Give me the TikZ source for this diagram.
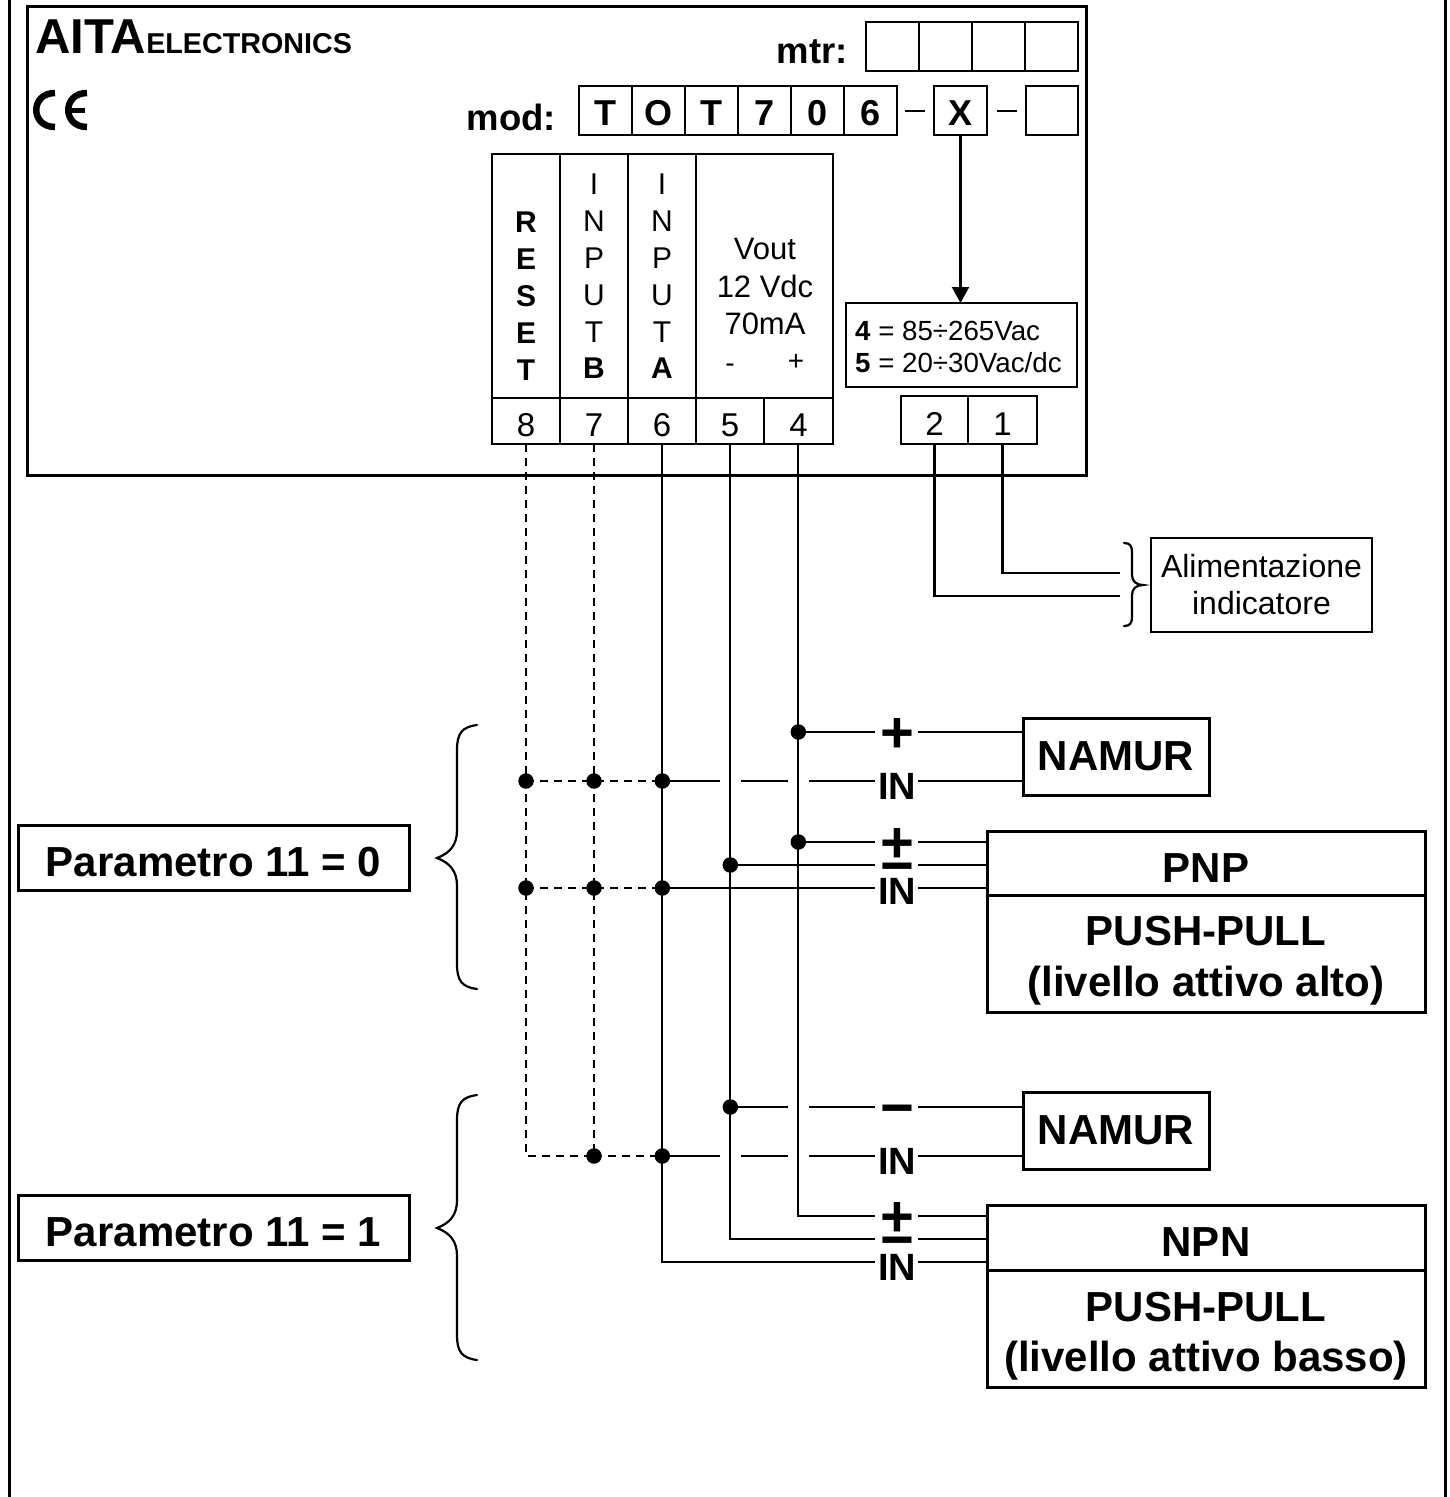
\documentclass[tikz,border=0pt]{standalone}
\usepackage{fontspec}
\setmainfont{Liberation Sans}
\usetikzlibrary{arrows.meta,decorations.pathreplacing}
\newcommand{\fs}[1]{\fontsize{#1}{#1}\selectfont}
\newcommand{\bx}[6][]{% [style] name x1 y1 x2 y2 text in following group
  \pgfmathsetmacro{\bw}{#5-#3}\pgfmathsetmacro{\bh}{#6-#4}%
  \node[box,#1,anchor=north west,minimum width=\bw pt,minimum height=\bh pt] (#2) at (#3,#4)}
\tikzset{
  box/.style={draw=black,line width=3pt,fill=white,inner sep=0pt,outer sep=0pt,align=center},
  thinbox/.style={line width=2.5pt},
  wire/.style={line width=2.2pt},
  dwire/.style={line width=2.2pt,dash pattern=on 8pt off 6pt},
  dot/.style={circle,fill=black,inner sep=0pt,minimum size=15.5pt},
  coltxt/.style={font=\fs{30},align=center,inner sep=0pt},
  sym/.style={font=\bfseries\fs{58},anchor=base,inner sep=0pt},
  intxt/.style={font=\bfseries\fs{38},inner sep=0pt},
  brc/.style={line width=2.2pt,line cap=round},
  ce/.style={line width=6.5pt}
}
\begin{document}
\begin{tikzpicture}[x=1pt,y=-1pt]
\useasboundingbox (0,0) rectangle (1450,1497);
\fill[white] (0,0) rectangle (1450,1497);
% outer frame
\coordinate (otl) at (9,0); \coordinate (obl) at (9,1497);
\coordinate (otr) at (1445,0); \coordinate (obr) at (1445,1497);
\draw[line width=3pt] (otl) -- (obl);
\draw[line width=3pt] (otr) -- (obr);
% main box
\bx{main}{27}{6}{1086}{475} {};
\node[anchor=base west,inner sep=0pt,font=\bfseries\fs{49}] (aita) at (35,53) {AITA};
\node[anchor=base west,inner sep=0pt,font=\bfseries\fs{28.7}] (elec) at (aita.base east) {ELECTRONICS};
% CE
\draw[ce] (55,93) .. controls (30,93) and (30,127) .. (55,127);
\draw[ce] (87,93) .. controls (62,93) and (62,127) .. (87,127);
\draw[line width=5pt] (69,110) -- (85,110);
% mtr
\node[anchor=base east,inner sep=0pt,font=\bfseries\fs{36.5}] (mtr) at (848,63) {mtr:};
\bx[thinbox]{m1}{866}{22}{919}{71} {};
\bx[thinbox]{m2}{919}{22}{972}{71} {};
\bx[thinbox]{m3}{972}{22}{1025}{71} {};
\bx[thinbox]{m4}{1025}{22}{1078}{71} {};
% mod
\node[anchor=base east,inner sep=0pt,font=\bfseries\fs{36.5}] (mod) at (556,130) {mod:};
\tikzset{lt/.style={thinbox,font=\bfseries\fs{36},text height=29pt,text depth=0pt}}
\bx[lt]{t1}{579}{86}{632}{135} {T};
\bx[lt]{t2}{632}{86}{685}{135} {O};
\bx[lt]{t3}{685}{86}{738}{135} {T};
\bx[lt]{t4}{738}{86}{791}{135} {7};
\bx[lt]{t5}{791}{86}{844}{135} {0};
\bx[lt]{t6}{844}{86}{897}{135} {6};
\bx[lt]{tx}{934}{86}{987}{135} {X};
\bx[thinbox]{ty}{1026}{86}{1078}{135} {};
\draw[line width=2pt] (t6.east) ++(8,0) -- ++(20,0);
\draw[line width=2pt] (tx.east) ++(10,0) -- ++(20,0);
% terminal columns
\bx[thinbox]{c8}{492}{154}{560}{398} {};
\bx[thinbox]{c7}{560}{154}{628}{398} {};
\bx[thinbox]{c6}{628}{154}{696}{398} {};
\bx[thinbox]{cv}{696}{154}{833}{398} {};
\node[coltxt,anchor=north] (treset) at (526,212) {\bfseries\parbox{40pt}{\centering\baselineskip=36.8pt R\\E\\S\\E\\T}};
\node[coltxt,anchor=north] (tb) at (594,174) {\parbox{40pt}{\centering\baselineskip=36.8pt I\\N\\P\\U\\T\\\textbf{B}}};
\node[coltxt,anchor=north] (ta) at (662,174) {\parbox{40pt}{\centering\baselineskip=36.8pt I\\N\\P\\U\\T\\\textbf{A}}};
\node[coltxt,anchor=north,font=\fs{31}] (tv) at (765,238) {\parbox{130pt}{\centering\baselineskip=37.5pt Vout\\12 Vdc\\70mA}};
\node[coltxt,anchor=base,font=\fs{28}] (vm) at (730,372) {-};
\node[coltxt,anchor=base,font=\fs{28}] (vp) at (796,370) {+};
% terminals
\tikzset{nt/.style={thinbox,font=\fs{33},text height=30pt,text depth=0pt}}
\bx[nt]{n8}{492}{398}{560}{444} {8};
\bx[nt]{n7}{560}{398}{628}{444} {7};
\bx[nt]{n6}{628}{398}{696}{444} {6};
\bx[nt]{n5}{696}{398}{764}{444} {5};
\bx[nt]{n4}{764}{398}{833}{444} {4};
\bx[nt]{n2}{901}{396}{968}{444} {2};
\bx[nt]{n1}{968}{396}{1037}{444} {1};
% spec
\bx[line width=2.7pt]{spec}{846}{303}{1077}{387} {};
\node[anchor=base west,inner sep=0pt,font=\fs{27.7}] (s4) at (855,340) {\textbf{4} = 85÷265Vac};
\node[anchor=base west,inner sep=0pt,font=\fs{27.7}] (s5) at (855,372) {\textbf{5} = 20÷30Vac/dc};
\coordinate (xin) at (960.5,135);
\draw[wire,-{Triangle[length=16pt,width=17pt]}] (xin) -- (xin |- spec.north);
% supply
\bx[line width=2.7pt,font=\fs{32}]{ali}{1151}{538}{1372}{632} {\parbox{215pt}{\centering\baselineskip=37pt Alimentazione\\indicatore}};
\coordinate (w1e) at (1120,573); \coordinate (w2e) at (1120,596);
\coordinate (w1t) at (1002.5,444); \coordinate (w2t) at (934.5,444);
\draw[wire] (w1t) |- (w1e);
\draw[wire] (w2t) |- (w2e);
\draw[brc] (1124,543) .. controls (1130,543) and (1132,546) .. (1132,552) -- (1132,575) .. controls (1132,581) and (1136,585) .. (1143,585) .. controls (1136,585) and (1132,589) .. (1132,595) -- (1132,617) .. controls (1132,623) and (1130,626) .. (1124,626);
% wire x positions
\coordinate (X8) at (526,444); \coordinate (X7) at (594,444); \coordinate (X6) at (662.3,444);
\coordinate (X5) at (730.3,444); \coordinate (X4) at (798.3,444);
\coordinate (j81) at (526,781); \coordinate (j71) at (594,781); \coordinate (j61) at (662.3,781);
\coordinate (j82) at (526,888); \coordinate (j72) at (594,888); \coordinate (j62) at (662.3,888);
\coordinate (j41) at (798.3,732); \coordinate (j42) at (798.3,842); \coordinate (j51) at (730.3,865);
\coordinate (j52) at (730.3,1107); \coordinate (j73) at (594,1156); \coordinate (j63) at (662.3,1156);
\coordinate (c83) at (526,1156);
% boxes of sensors
\tikzset{bigt/.style={line width=3pt,font=\bfseries\fs{42}},
  lowt/.style={bigt,text height=38pt,text depth=0pt},
  ppt/.style={font=\bfseries\fs{42},inner sep=0pt}}
\bx[bigt,text height=27pt,text depth=0pt]{nam1}{1023}{718}{1209}{795} {NAMUR};
\bx[bigt,text height=27pt,text depth=0pt]{nam2}{1023}{1092}{1209}{1169} {NAMUR};
\bx[lowt]{pnp}{987}{831}{1425}{895} {PNP};
\bx[bigt]{pp1}{987}{895}{1425}{1012} {};
\node[ppt] (pp1t) at (1206,961) {\parbox{430pt}{\centering\baselineskip=51pt PUSH-PULL\\(livello attivo alto)}};
\bx[lowt]{npn}{987}{1205}{1425}{1270} {NPN};
\bx[bigt]{pp2}{987}{1270}{1425}{1387} {};
\node[ppt] (pp2t) at (1206,1336) {\parbox{430pt}{\centering\baselineskip=50pt PUSH-PULL\\(livello attivo basso)}};
% vertical wires
\draw[dwire] (X8) -- (c83) -- (j73);
\draw[dwire] (X7) -- (j73);
\draw[dwire] (j73) -- (j63);
\draw[dwire] (j81) -- (j61);
\draw[dwire] (j82) -- (j62);
\draw[wire] (X6) |- (875,1262);
\draw[wire] (X5) |- (875,1239);
\draw[wire] (X4) |- (875,1216);
% horizontal wires
\draw[wire] (j41) -- (875,732);
\draw[wire] (918,732) -- (nam1.west |- 918,732);
\draw[wire] (j42) -- (875,842);
\draw[wire] (918,842) -- (pnp.west |- 918,842);
\draw[wire] (j51) -- (875,865);
\draw[wire] (918,865) -- (pnp.west |- 918,865);
\draw[wire] (j62) -- (875,888);
\draw[wire] (918,888) -- (pnp.west |- 918,888);
\draw[wire] (j61) -- (720,781);
\draw[wire] (741,781) -- (788,781);
\draw[wire] (809,781) -- (875,781);
\draw[wire] (918,781) -- (nam1.west |- 918,781);
\draw[wire] (j52) -- (788,1107);
\draw[wire] (809,1107) -- (875,1107);
\draw[wire] (918,1107) -- (nam2.west |- 918,1107);
\draw[wire] (j63) -- (720,1156);
\draw[wire] (741,1156) -- (788,1156);
\draw[wire] (809,1156) -- (875,1156);
\draw[wire] (918,1156) -- (nam2.west |- 918,1156);
\draw[wire] (918,1216) -- (npn.west |- 918,1216);
\draw[wire] (918,1239) -- (npn.west |- 918,1239);
\draw[wire] (918,1262) -- (npn.west |- 918,1262);
% dots
\foreach \j in {j81,j71,j61,j82,j72,j62,j41,j42,j51,j52,j73,j63} \node[dot] at (\j) {};
% signs
\node[sym] (p1) at (897,752) {+};
\node[intxt] (i1) at (897,786) {IN};
\node[sym] (p2) at (897,862) {+};
\node[sym] (m2) at (897,885) {−};
\node[intxt] (i2) at (897,891) {IN};
\node[sym] (m3) at (897,1127) {−};
\node[intxt] (i3) at (897,1161) {IN};
\node[sym] (p4) at (897,1236) {+};
\node[sym] (m4) at (897,1259) {−};
\node[intxt] (i4) at (897,1267) {IN};
% parameter boxes
\bx[bigt,text height=37pt,text depth=0pt]{par0}{18}{825}{409}{890} {Parametro 11 = 0};
\bx[bigt,text height=37pt,text depth=0pt]{par1}{18}{1195}{409}{1260} {Parametro 11 = 1};
\draw[brc] (477,725) .. controls (462,727) and (457,733) .. (457,750) -- (457,830) .. controls (457,845) and (450,853) .. (437,858) .. controls (450,863) and (457,871) .. (457,886) -- (457,964) .. controls (457,981) and (462,987) .. (477,989);
\draw[brc] (477,1095) .. controls (462,1097) and (457,1103) .. (457,1120) -- (457,1200) .. controls (457,1215) and (450,1223) .. (437,1228) .. controls (450,1233) and (457,1241) .. (457,1256) -- (457,1335) .. controls (457,1352) and (462,1358) .. (477,1360);
\end{tikzpicture}
\end{document}
